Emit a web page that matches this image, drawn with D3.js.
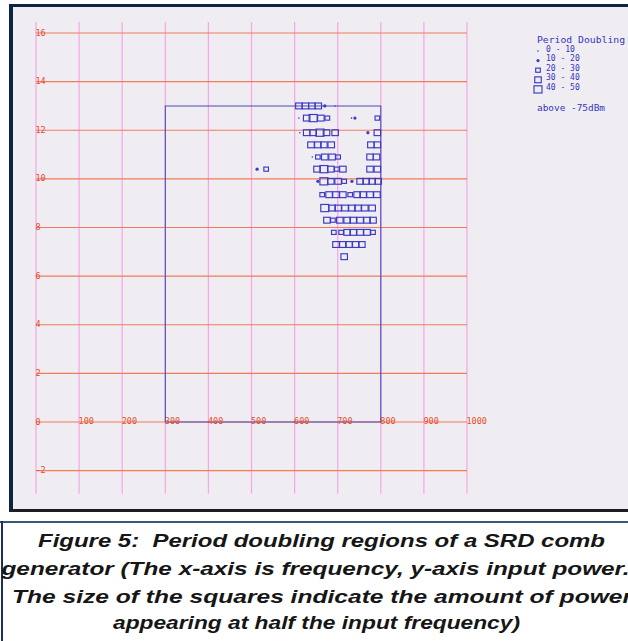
<!DOCTYPE html>
<html>
<head>
<meta charset="utf-8">
<script src="https://cdn.jsdelivr.net/npm/d3@7"></script>
<style>
  html, body { margin: 0; padding: 0; background: #fff; overflow: hidden; }
  svg { display: block; }
</style>
</head>
<body>
<svg id="chart" width="628" height="641"></svg>
<script>
// axis ticks
const xTicks = [0, 100, 200, 300, 400, 500, 600, 700, 800, 900, 1000];
const yTicks = [-2, 0, 2, 4, 6, 8, 10, 12, 14, 16];

// swept region (MHz / dBm)
const sweepFreq = [300, 300, 800, 800, 300];
const sweepPower = [0, 13, 13, 0, 0];

// period doubling measurements, one row per input power
const rowPower = [13, 12.5, 11.9, 11.4, 10.9, 10.4, 9.9, 9.35, 8.8, 8.3, 7.8, 7.3, 6.8];
const rowFreq = [
  [610, 625, 640, 655, 670, 694],
  [610, 628, 643, 661, 676, 732, 740, 792],
  [612, 628, 643, 659, 674, 694, 770, 792],
  [638, 654, 668, 685, 777, 792],
  [641, 654, 670, 687, 701, 775, 790],
  [513, 534, 652, 668, 684, 698, 712, 775, 792],
  [654, 668, 684, 701, 715, 733, 752, 766, 780, 794],
  [664, 680, 696, 712, 729, 745, 759, 775, 791],
  [670, 687, 701, 717, 733, 747, 763, 780],
  [675, 689, 705, 722, 736, 752, 768, 782],
  [691, 708, 722, 736, 752, 768, 782],
  [696, 712, 726, 742, 756],
  [715]
];
// level index into legendLabels
const rowLevel = [
  [3, 3, 3, 3, 1, 0],
  [0, 3, 4, 3, 2, 0, 1, 2],
  [0, 3, 3, 4, 3, 3, 1, 3],
  [3, 3, 3, 3, 3, 3],
  [0, 2, 3, 3, 2, 3, 3],
  [1, 2, 3, 4, 3, 2, 3, 3, 3],
  [1, 4, 3, 3, 2, 1, 3, 3, 3, 3],
  [2, 3, 3, 3, 2, 3, 3, 3, 3],
  [4, 3, 3, 3, 3, 3, 3, 3],
  [3, 2, 3, 3, 3, 3, 3, 3],
  [2, 2, 3, 3, 3, 3, 2],
  [3, 3, 3, 3, 3],
  [3]
];

const legendTitle = 'Period Doubling';
const legendLabels = ['0 - 10', '10 - 20', '20 - 30', '30 - 40', '40 - 50'];
const legendNote = 'above -75dBm';

const captionLines = [
  'Figure 5:  Period doubling regions of a SRD comb',
  'generator (The x-axis is frequency, y-axis input power.',
  'The size of the squares indicate the amount of power',
  'appearing at half the input frequency)'
];

const svg = d3.select('#chart');

const x = d3.scaleLinear().domain([0, 1000]).range([36, 467]);
const y = d3.scaleLinear().domain([0, 16]).range([422, 33]);

// marker size per level
const markSize = d3.scaleOrdinal().domain([0, 1, 2, 3, 4]).range([1.6, 3.2, 4.6, 6.5, 8]);
const blue = '#3a3ac6';

/* frame */
svg.append('rect').attr('x', 9).attr('y', 4).attr('width', 630).attr('height', 508)
  .attr('fill', '#0d2446');
svg.append('rect').attr('x', 9).attr('y', 509).attr('width', 630).attr('height', 3)
  .attr('fill', '#1d1d24');
svg.append('rect').attr('x', 13).attr('y', 7).attr('width', 620).attr('height', 502)
  .attr('fill', '#efedf1');

/* grid */
const grid = svg.append('g');
grid.selectAll('line.v')
  .data(xTicks)
  .join('line')
  .attr('class', 'v')
  .attr('x1', (d) => x(d)).attr('x2', (d) => x(d))
  .attr('y1', y(16.45)).attr('y2', y(-2.95))
  .attr('stroke', '#f6a6e6')
  .attr('stroke-width', 1.2);

grid.selectAll('line.h')
  .data(yTicks)
  .join('line')
  .attr('class', 'h')
  .attr('x1', x(0)).attr('x2', x(1000))
  .attr('y1', (d) => y(d)).attr('y2', (d) => y(d))
  .attr('stroke', '#f27c5a')
  .attr('stroke-width', 1.2);

/* sweep box */
const sweepLine = d3.line()
  .x((d, i) => x(sweepFreq[i]))
  .y((d, i) => y(sweepPower[i]));
svg.append('path')
  .attr('d', sweepLine(sweepFreq))
  .attr('fill', 'none')
  .attr('stroke', '#4a4ac0')
  .attr('stroke-width', 1.1);

/* tick labels */
const labelFont = '"DejaVu Sans Mono", monospace';
svg.append('g')
  .selectAll('text')
  .data(yTicks)
  .join('text')
  .attr('x', x(0) - 0.5)
  .attr('y', (d) => y(d) + 2.5)
  .attr('font-family', labelFont)
  .attr('font-size', 8.5)
  .attr('fill', '#e44c2a')
  .text((d) => d);

svg.append('g')
  .selectAll('text')
  .data(xTicks.filter((d) => d > 0))
  .join('text')
  .attr('x', (d) => x(d) - 0.5)
  .attr('y', y(0) + 1.5)
  .attr('font-family', labelFont)
  .attr('font-size', 8.5)
  .attr('fill', '#e44c2a')
  .text((d) => d);

/* period doubling marks */
const points = [];
rowPower.forEach((p, r) => {
  rowFreq[r].forEach((f, i) => points.push({ f: f, p: p, level: rowLevel[r][i] }));
});

function drawMark(g, cx, cy, level) {
  const s = markSize(level);
  if (level < 2) {
    g.append('circle')
      .attr('cx', cx).attr('cy', cy).attr('r', s / 2)
      .attr('fill', blue);
  } else {
    g.append('rect')
      .attr('x', cx - s / 2).attr('y', cy - s * 0.45)
      .attr('width', s).attr('height', s * 0.9)
      .attr('fill', 'none')
      .attr('stroke', blue)
      .attr('stroke-width', 1.15);
  }
}

const marks = svg.append('g');
points.forEach((d) => drawMark(marks, x(d.f), y(d.p), d.level));

/* legend */
const legend = svg.append('g')
  .attr('font-family', labelFont)
  .attr('font-size', 8)
  .attr('fill', '#3434c0');
legend.append('text')
  .attr('x', 537).attr('y', 43)
  .attr('textLength', 88).attr('lengthAdjust', 'spacingAndGlyphs')
  .text(legendTitle);
legendLabels.forEach((label, i) => {
  const cy = 49 + i * 9.6;
  legend.append('text')
    .attr('x', 546).attr('y', cy + 2.6)
    .text(label);
  drawMark(legend, 538, cy + 2, i);
});
legend.append('text')
  .attr('x', 537).attr('y', 111)
  .attr('textLength', 68).attr('lengthAdjust', 'spacingAndGlyphs')
  .text(legendNote);

/* caption */
svg.append('rect').attr('x', 0).attr('y', 521).attr('width', 628).attr('height', 2)
  .attr('fill', '#3d5578');
svg.append('rect').attr('x', 1).attr('y', 521).attr('width', 2).attr('height', 120)
  .attr('fill', '#1c3050');

const capX = [38, 1.5, 12, 113];
const capW = [567, 628, 620, 407];
const capY = [547, 575, 603, 629];
svg.append('g')
  .selectAll('text')
  .data(captionLines)
  .join('text')
  .attr('x', (d, i) => capX[i])
  .attr('y', (d, i) => capY[i])
  .attr('textLength', (d, i) => capW[i])
  .attr('lengthAdjust', 'spacingAndGlyphs')
  .attr('font-family', '"Liberation Sans", Arial, sans-serif')
  .attr('font-size', 19)
  .attr('font-weight', 'bold')
  .attr('font-style', 'italic')
  .attr('fill', '#161616')
  .style('white-space', 'pre')
  .text((d) => d);
</script>
</body>
</html>
